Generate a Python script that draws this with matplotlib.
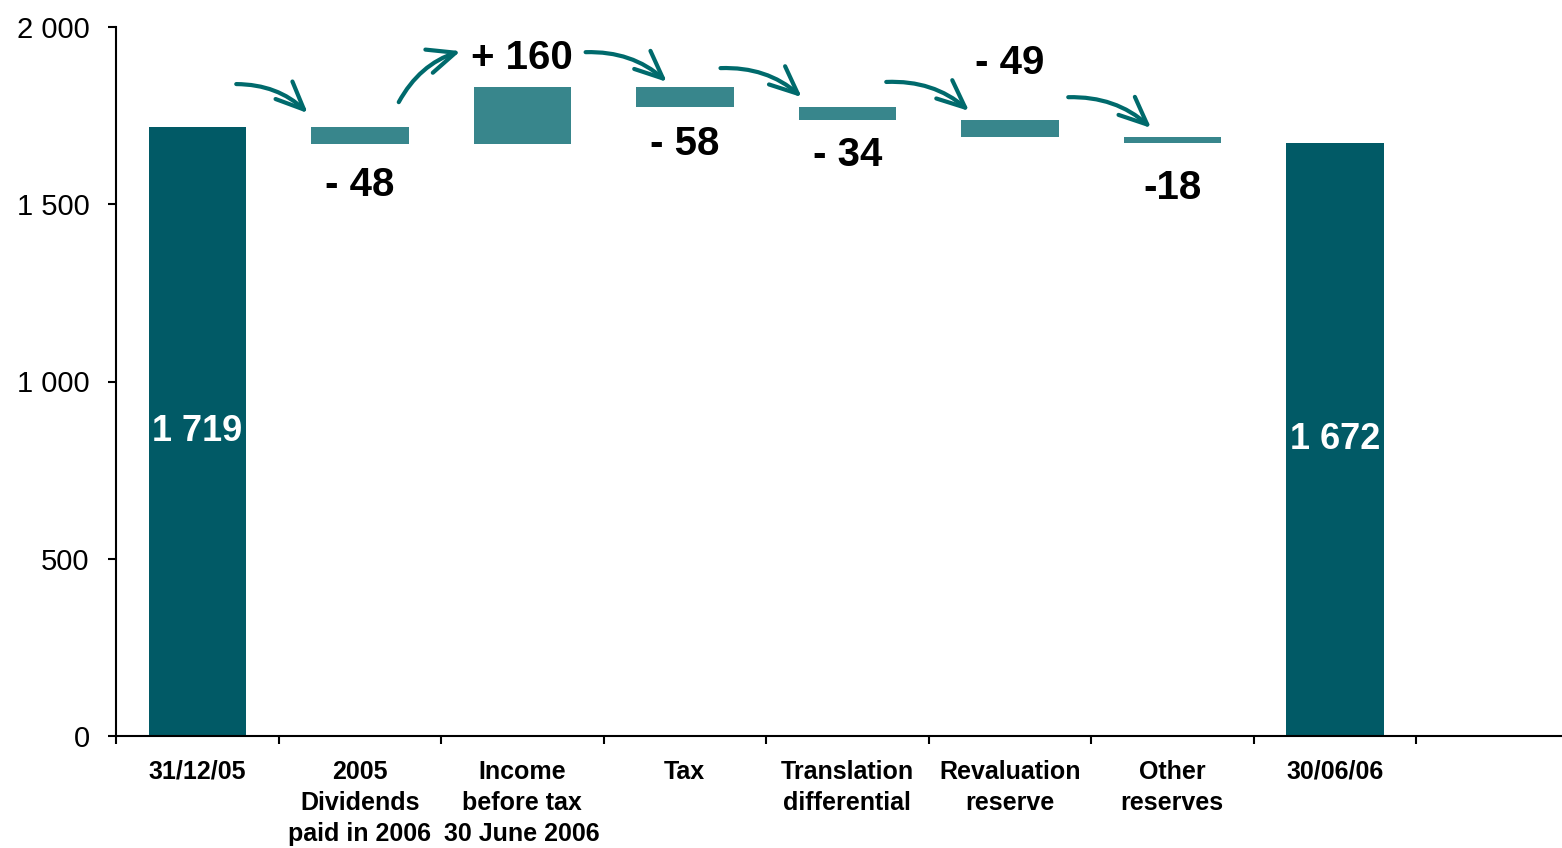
import matplotlib.pyplot as plt
import numpy as np

# equity bridge, in millions
categories = ["31/12/05", "2005\nDividends\npaid in 2006", "Income\nbefore tax\n30 June 2006",
              "Tax", "Translation\ndifferential", "Revaluation\nreserve", "Other\nreserves", "30/06/06"]
opening = 1719
deltas = [-48, 160, -58, -34, -49, -18]
delta_labels = ["- 48", "+ 160", "- 58", "- 34", "- 49", "-18"]
closing = 1672
total_labels = ["1 719", "1 672"]
yticks = [0, 500, 1000, 1500, 2000]
ytick_labels = ["0", "500", "1 000", "1 500", "2 000"]

# where each step label sits, pixels from the bar edge (+ above top, - below bottom)
label_offsets = [-41, 29, -37, -35, 57, -45]
# arrow ends: x offset from the step's slot, y offset from the step's top
arrow_start = [(-0.76, 120), (-0.76, -43), (-0.61, 98), (-0.78, 111), (-0.76, 106), (-0.64, 112)]
arrow_end = [(-0.32, 38), (-0.38, 101), (-0.11, 14), (-0.28, 29), (-0.25, 24), (-0.13, 25)]

total_color = "#015A66"
step_color = "#38868C"
arrow_color = "#006A6C"

plt.rcParams['font.family'] = ['Liberation Sans', 'DejaVu Sans']

fig = plt.figure(figsize=(15.62, 8.48), dpi=100)
ax = fig.add_axes([116 / 1562, 112 / 848, 1446 / 1562, 709 / 848])

bar_w = 0.6
levels = opening + np.cumsum([0] + deltas)

# start / end totals
n_last = len(categories) - 1
ax.bar([0, n_last], [opening, closing], width=bar_w, color=total_color, zorder=2)
for xi, val, txt in zip([0, n_last], [opening, closing], total_labels):
    ax.text(xi, val / 2, txt, ha='center', va='center', color='white',
            fontsize=26, fontweight='bold', zorder=3)

# floating steps
for i, d in enumerate(deltas, start=1):
    lo = min(levels[i - 1], levels[i])
    hi = max(levels[i - 1], levels[i])
    ax.bar(i, hi - lo, bottom=lo, width=bar_w, color=step_color, zorder=2)

    off = label_offsets[i - 1]
    anchor = hi if off > 0 else lo
    ax.annotate(delta_labels[i - 1], (i, anchor), xytext=(0, off * 0.72),
                textcoords='offset points', ha='center', va='center',
                fontsize=29, fontweight='bold', color='black')

    # curved arrow leading into the step
    sx, sy = arrow_start[i - 1]
    ex, ey = arrow_end[i - 1]
    ax.annotate('', xy=(i + ex, hi + ey), xytext=(i + sx, hi + sy),
                arrowprops=dict(arrowstyle='->,head_length=0.8,head_width=0.35',
                                mutation_scale=25, lw=3, color=arrow_color,
                                connectionstyle='arc3,rad=-0.2',
                                shrinkA=0, shrinkB=0))

ax.set_xlim(-0.5, -0.5 + 1446 / 162.5)
ax.set_ylim(0, 2000)

ax.set_yticks(yticks)
ax.set_yticklabels(ytick_labels)
ax.tick_params(axis='y', length=6, width=1.5, pad=13, labelsize=21)

ax.set_xticks(np.arange(len(categories) + 1) - 0.5)
ax.set_xticklabels([])
ax.set_xticks(np.arange(len(categories)), minor=True)
ax.set_xticklabels(categories, minor=True, fontsize=18, fontweight='bold',
                   linespacing=1.38)
ax.tick_params(axis='x', which='major', length=6, width=1.5, direction='out')
ax.tick_params(axis='x', which='minor', length=0, pad=17)

for side in ['top', 'right']:
    ax.spines[side].set_visible(False)
for side in ['left', 'bottom']:
    ax.spines[side].set_linewidth(1.5)

fig.savefig("out.png", dpi=100)
